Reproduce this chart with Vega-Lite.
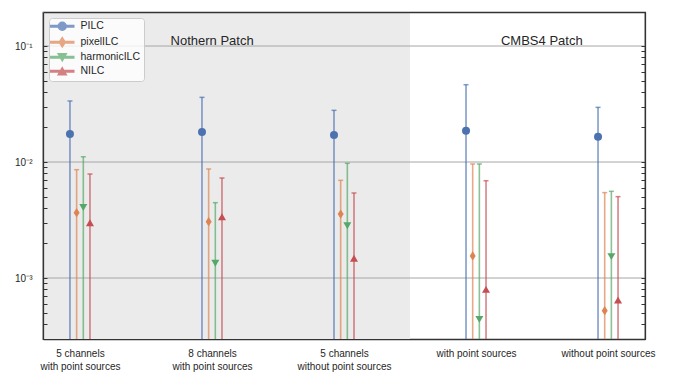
{
  "$schema": "https://vega.github.io/schema/vega-lite/v6.json",
  "width": 602,
  "height": 327,
  "autosize": "none",
  "padding": {"left": 43, "top": 12, "right": 29, "bottom": 40},
  "background": "white",
  "config": {
    "view": {"stroke": "#333333", "strokeWidth": 1.25},
    "font": "Liberation Sans",
    "axis": {"labelFont": "Liberation Sans", "labelColor": "#262626", "tickColor": "#333333", "domainColor": "#333333", "domainWidth": 1.25, "titleFont": "Liberation Sans"}
  },
  "datasets": {
    "patches": [
      {"patch": "Nothern Patch", "start": -0.2825, "end": 2.5, "mid": 1},
      {"patch": "CMBS4 Patch", "start": 2.5, "end": 4.2825, "mid": 3.5}
    ],
    "decades": [{"v": 0.1}, {"v": 0.01}, {"v": 0.001}],
    "results": [
      {"setup": "5 channels\nwith point sources", "method": "PILC", "val": 0.0174, "hi": 0.0336},
      {"setup": "5 channels\nwith point sources", "method": "pixelILC", "val": 0.00366, "hi": 0.00859},
      {"setup": "5 channels\nwith point sources", "method": "harmonicILC", "val": 0.00406, "hi": 0.0111},
      {"setup": "5 channels\nwith point sources", "method": "NILC", "val": 0.0030, "hi": 0.00788},
      {"setup": "8 channels\nwith point sources", "method": "PILC", "val": 0.01815, "hi": 0.0361},
      {"setup": "8 channels\nwith point sources", "method": "pixelILC", "val": 0.00306, "hi": 0.00871},
      {"setup": "8 channels\nwith point sources", "method": "harmonicILC", "val": 0.00134, "hi": 0.00446},
      {"setup": "8 channels\nwith point sources", "method": "NILC", "val": 0.00338, "hi": 0.00728},
      {"setup": "5 channels\nwithout point sources", "method": "PILC", "val": 0.0171, "hi": 0.0279},
      {"setup": "5 channels\nwithout point sources", "method": "pixelILC", "val": 0.00356, "hi": 0.00695},
      {"setup": "5 channels\nwithout point sources", "method": "harmonicILC", "val": 0.00282, "hi": 0.00975},
      {"setup": "5 channels\nwithout point sources", "method": "NILC", "val": 0.00148, "hi": 0.00541},
      {"setup": "with point sources", "method": "PILC", "val": 0.01862, "hi": 0.0464},
      {"setup": "with point sources", "method": "pixelILC", "val": 0.00155, "hi": 0.00962},
      {"setup": "with point sources", "method": "harmonicILC", "val": 0.00044, "hi": 0.00962},
      {"setup": "with point sources", "method": "NILC", "val": 0.000798, "hi": 0.0069},
      {"setup": "without point sources", "method": "PILC", "val": 0.01652, "hi": 0.0296},
      {"setup": "without point sources", "method": "pixelILC", "val": 0.000523, "hi": 0.00545},
      {"setup": "without point sources", "method": "harmonicILC", "val": 0.00153, "hi": 0.00559},
      {"setup": "without point sources", "method": "NILC", "val": 0.000646, "hi": 0.00503}
    ]
  },
  "layer": [
    {
      "data": {"name": "patches"},
      "layer": [
        {
          "transform": [{"filter": "datum.patch == 'Nothern Patch'"}],
          "mark": {"type": "rect", "fill": "#ebebeb"},
          "encoding": {
            "x": {"field": "start", "type": "quantitative", "scale": {"domain": [-0.2825, 4.2825], "nice": false, "zero": false},
                  "axis": {"orient": "top", "title": null, "labels": false, "ticks": false, "grid": false, "domain": true, "zindex": 1}},
            "x2": {"field": "end"}
          }
        },
        {
          "data": {"name": "decades"},
          "mark": {"type": "rule", "color": "#a6a6a6", "strokeWidth": 1},
          "encoding": {
            "y": {"field": "v", "type": "quantitative"}
          }
        },
        {
          "mark": {"type": "text", "fontSize": 13, "color": "#262626", "baseline": "alphabetic", "align": "center"},
          "encoding": {
            "x": {"field": "mid", "type": "quantitative"},
            "y": {"datum": 0.102, "type": "quantitative",
                  "scale": {"type": "log", "domain": [0.000298, 0.1965], "nice": false},
                  "axis": {"orient": "right", "title": null, "labels": false, "grid": false, "domain": true, "zindex": 1,
                           "tickSize": -4, "tickWidth": 1,
                           "values": [0.0003,0.0004,0.0005,0.0006,0.0007,0.0008,0.0009,0.001,0.002,0.003,0.004,0.005,0.006,0.007,0.008,0.009,0.01,0.02,0.03,0.04,0.05,0.06,0.07,0.08,0.09,0.1]}},
            "text": {"field": "patch"}
          }
        }
      ]
    },
    {
      "data": {"name": "results"},
      "layer": [
        {
          "mark": {"type": "point", "filled": true, "opacity": 0, "size": 64},
          "encoding": {
            "x": {"field": "setup", "type": "nominal", "sort": null, "scale": {"type": "point", "padding": 0.28},
                  "axis": {"title": null, "ticks": false, "labelAngle": 0, "labelAlign": "center", "labelBaseline": "top", "labelFontSize": 10, "labelPadding": 9, "labelLineHeight": 13,
                           "labelExpr": "split(datum.label, '\\n')", "domain": true, "zindex": 1, "grid": false}},
            "xOffset": {"field": "method", "type": "nominal",
                        "scale": {"type": "point", "domain": ["PILC", "pixelILC", "harmonicILC", "NILC"], "range": [-10, 10], "padding": 0}},
            "y": {"field": "val", "type": "quantitative", "scale": {"type": "log", "domain": [0.000298, 0.1965], "nice": false}},
            "color": {"field": "method", "type": "nominal",
                      "scale": {"domain": ["PILC", "pixelILC", "harmonicILC", "NILC"], "range": ["#4C72B0", "#DD8452", "#55A868", "#C44E52"]},
                      "legend": {"title": null, "orient": "top-left", "offset": 6, "direction": "vertical",
                                 "padding": 3, "rowPadding": 0, "labelOffset": 18, "labelFontSize": 10.5, "labelColor": "#262626",
                                 "fillColor": "rgba(255,255,255,0.8)", "strokeColor": "#cccccc", "cornerRadius": 3,
                                 "symbolSize": 64, "symbolOpacity": 1}},
            "shape": {"field": "method", "type": "nominal",
                      "scale": {"domain": ["PILC", "pixelILC", "harmonicILC", "NILC"],
                                "range": [
                                  "M-1.625,-0.19L4.125,-0.19L4.125,0.19L-1.625,0.19ZM2.25,0A1,1,0,1,1,0.25,0A1,1,0,1,1,2.25,0Z",
                                  "M-1.625,-0.19L4.125,-0.19L4.125,0.19L-1.625,0.19ZM1.25,-1.15L2,0L1.25,1.15L0.5,0Z",
                                  "M-1.625,-0.19L4.125,-0.19L4.125,0.19L-1.625,0.19ZM0.25,-0.866L2.25,-0.866L1.25,0.866Z",
                                  "M-1.625,-0.19L4.125,-0.19L4.125,0.19L-1.625,0.19ZM1.25,-0.866L2.25,0.866L0.25,0.866Z"
                                ]},
                      "legend": {"title": null, "orient": "top-left", "symbolOpacity": 1}}
          }
        },
        {
          "mark": {"type": "rule", "strokeWidth": 1.6, "opacity": 0.7, "clip": true},
          "encoding": {
            "x": {"field": "setup", "type": "nominal", "sort": null,
                  "scale": {"type": "point", "padding": 0.28},
                  "axis": {"title": null, "ticks": false, "labelAngle": 0, "labelAlign": "center", "labelBaseline": "top", "labelFontSize": 10, "labelPadding": 9, "labelLineHeight": 13,
                           "labelExpr": "split(datum.label, '\\n')", "domain": true, "zindex": 1, "grid": false}},
            "xOffset": {"field": "method", "type": "nominal",
                        "scale": {"type": "point", "domain": ["PILC", "pixelILC", "harmonicILC", "NILC"], "range": [-10, 10], "padding": 0}},
            "y": {"field": "hi", "type": "quantitative",
                  "scale": {"type": "log", "domain": [0.000298, 0.1965], "nice": false},
                  "axis": {"orient": "left", "title": null, "grid": false, "domain": true, "zindex": 1,
                           "tickSize": -4, "tickWidth": 1, "labelPadding": 15, "labelFontSize": 10, "labelOverlap": false, "labelBaseline": "middle",
                           "values": [0.0003,0.0004,0.0005,0.0006,0.0007,0.0008,0.0009,0.001,0.002,0.003,0.004,0.005,0.006,0.007,0.008,0.009,0.01,0.02,0.03,0.04,0.05,0.06,0.07,0.08,0.09,0.1],
                           "labelExpr": "datum.value == 0.1 ? '10⁻¹' : datum.value == 0.01 ? '10⁻²' : datum.value == 0.001 ? '10⁻³' : ''"}},
            "y2": {"datum": 0.0001},
            "color": {"field": "method", "type": "nominal"}
          }
        },
        {
          "mark": {"type": "tick", "size": 5, "thickness": 1.5, "opacity": 0.7, "orient": "horizontal"},
          "encoding": {
            "x": {"field": "setup", "type": "nominal", "sort": null, "scale": {"type": "point", "padding": 0.28}},
            "xOffset": {"field": "method", "type": "nominal",
                        "scale": {"type": "point", "domain": ["PILC", "pixelILC", "harmonicILC", "NILC"], "range": [-10, 10], "padding": 0}},
            "y": {"field": "hi", "type": "quantitative"},
            "color": {"field": "method", "type": "nominal"}
          }
        },
        {
          "transform": [{"filter": "datum.method == 'PILC'"}],
          "mark": {"type": "point", "filled": true, "opacity": 1, "size": 64, "shape": "circle"},
          "encoding": {
            "x": {"field": "setup", "type": "nominal", "sort": null, "scale": {"type": "point", "padding": 0.28}},
            "xOffset": {"field": "method", "type": "nominal",
                        "scale": {"type": "point", "domain": ["PILC", "pixelILC", "harmonicILC", "NILC"], "range": [-10, 10], "padding": 0}},
            "y": {"field": "val", "type": "quantitative"},
            "color": {"field": "method", "type": "nominal"}
          }
        },
        {
          "transform": [{"filter": "datum.method == 'pixelILC'"}],
          "mark": {"type": "point", "filled": true, "opacity": 1, "size": 64, "shape": "M0,-1.15L0.75,0L0,1.15L-0.75,0Z"},
          "encoding": {
            "x": {"field": "setup", "type": "nominal", "sort": null, "scale": {"type": "point", "padding": 0.28}},
            "xOffset": {"field": "method", "type": "nominal",
                        "scale": {"type": "point", "domain": ["PILC", "pixelILC", "harmonicILC", "NILC"], "range": [-10, 10], "padding": 0}},
            "y": {"field": "val", "type": "quantitative"},
            "color": {"field": "method", "type": "nominal"}
          }
        },
        {
          "transform": [{"filter": "datum.method == 'harmonicILC'"}],
          "mark": {"type": "point", "filled": true, "opacity": 1, "size": 64, "shape": "triangle-down"},
          "encoding": {
            "x": {"field": "setup", "type": "nominal", "sort": null, "scale": {"type": "point", "padding": 0.28}},
            "xOffset": {"field": "method", "type": "nominal",
                        "scale": {"type": "point", "domain": ["PILC", "pixelILC", "harmonicILC", "NILC"], "range": [-10, 10], "padding": 0}},
            "y": {"field": "val", "type": "quantitative"},
            "color": {"field": "method", "type": "nominal"}
          }
        },
        {
          "transform": [{"filter": "datum.method == 'NILC'"}],
          "mark": {"type": "point", "filled": true, "opacity": 1, "size": 64, "shape": "triangle-up"},
          "encoding": {
            "x": {"field": "setup", "type": "nominal", "sort": null, "scale": {"type": "point", "padding": 0.28}},
            "xOffset": {"field": "method", "type": "nominal",
                        "scale": {"type": "point", "domain": ["PILC", "pixelILC", "harmonicILC", "NILC"], "range": [-10, 10], "padding": 0}},
            "y": {"field": "val", "type": "quantitative"},
            "color": {"field": "method", "type": "nominal"}
          }
        }
      ]
    }
  ],
  "resolve": {"scale": {"x": "independent", "xOffset": "independent"}, "axis": {"x": "independent", "y": "independent"}}
}
